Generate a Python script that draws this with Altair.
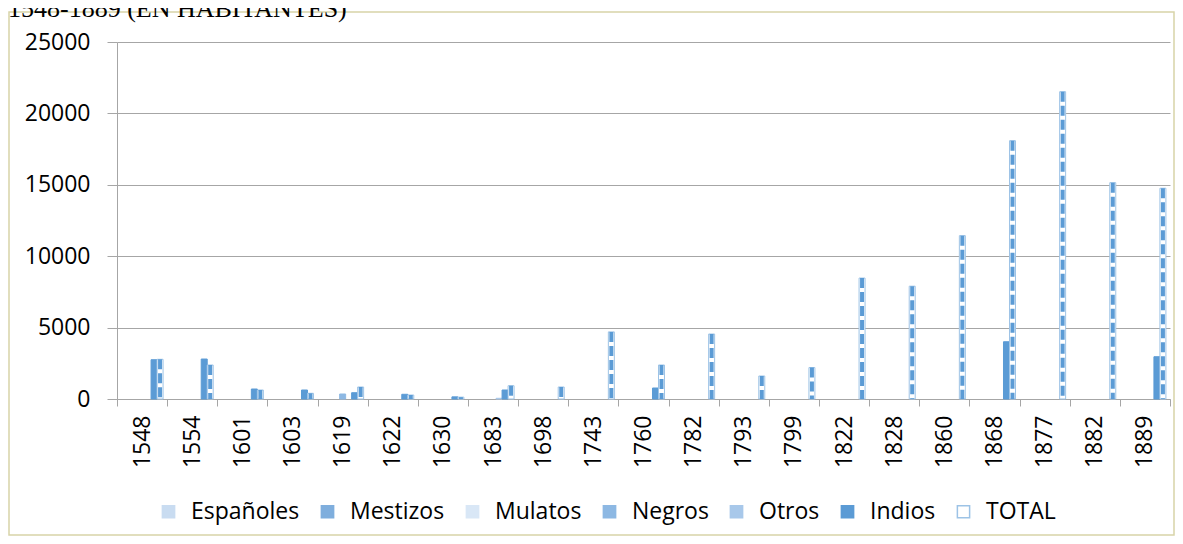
import altair as alt
import pandas as pd

title_text = "1548-1889 (EN HABITANTES)"

years = ["1548", "1554", "1601", "1603", "1619", "1622", "1630", "1683", "1698", "1743",
         "1760", "1782", "1793", "1799", "1822", "1828", "1860", "1868", "1877", "1882", "1889"]

series = ["Españoles", "Mestizos", "Mulatos", "Negros", "Otros", "Indios", "TOTAL"]

espanoles = [0, 0, 0, 0, 0, 0, 0, 0, 0, 0, 0, 0, 0, 0, 0, 0, 0, 0, 0, 0, 0]
mestizos = [0, 0, 0, 0, 0, 0, 0, 0, 0, 0, 0, 0, 0, 0, 0, 0, 0, 0, 0, 0, 0]
mulatos = [0, 0, 0, 0, 0, 0, 0, 0, 0, 0, 0, 0, 0, 0, 0, 0, 0, 0, 0, 0, 0]
negros = [0, 0, 0, 0, 350, 0, 0, 0, 0, 0, 0, 0, 0, 0, 0, 0, 0, 0, 0, 0, 0]
otros = [0, 0, 0, 0, 0, 0, 0, 50, 0, 0, 0, 0, 0, 0, 0, 0, 0, 0, 0, 0, 0]
indios = [2750, 2800, 700, 630, 440, 330, 150, 630, 0, 0, 770, 0, 0, 0, 0, 0, 0, 4010, 0, 0, 2960]
total = [2780, 2380, 630, 400, 840, 280, 130, 930, 840, 4700, 2380, 4550, 1610, 2200,
         8470, 7900, 11440, 18090, 21520, 15150, 14760]

y_ticks = [0, 5000, 10000, 15000, 20000, 25000]

fill_colors = ["#C9DCF1", "#7FAEDD", "#D9E7F6", "#8DB8E3", "#A8C8EA", "#5B9BD5", "#FFFFFF"]
stroke_colors = ["#C9DCF1", "#7FAEDD", "#D9E7F6", "#8DB8E3", "#A8C8EA", "#5B9BD5", "#9DC3E6"]

rows = []
for name, vals in zip(series, [espanoles, mestizos, mulatos, negros, otros, indios, total]):
    for yr, v in zip(years, vals):
        rows.append({"Año": yr, "Serie": name, "Valor": v})
df = pd.DataFrame(rows)

W = 1053
H = 357
FONT = "Open Sans"
GRID = "#A6A6A6"

x_enc = alt.X("Año:N", sort=years,
              scale=alt.Scale(paddingInner=0, paddingOuter=0),
              axis=alt.Axis(title=None, labelAngle=270, tickBand="extent", tickSize=7,
                            labelPadding=9, labelFont=FONT, labelFontSize=23,
                            labelColor="#000000", domainColor=GRID, tickColor=GRID,
                            grid=False, labelOverlap=False))
xoff_enc = alt.XOffset("Serie:N", sort=series,
                       scale=alt.Scale(domain=series, paddingInner=0, paddingOuter=0.68))
y_enc = alt.Y("Valor:Q", scale=alt.Scale(domain=[0, 25000], nice=False),
              axis=alt.Axis(title=None, values=y_ticks, format="d", tickSize=10,
                            labelPadding=17, labelFont=FONT, labelFontSize=23,
                            labelColor="#000000", domainColor=GRID, tickColor=GRID,
                            gridColor=GRID, gridWidth=1))

frame = alt.Chart(pd.DataFrame({"k": [1]})).mark_rect(
    fill="transparent", stroke="#D8D4A8", strokeWidth=1.5
).encode(x=alt.value(-108), x2=alt.value(W + 4), y=alt.value(-30), y2=alt.value(H + 136))

title = alt.Chart(pd.DataFrame({"t": [title_text]})).mark_text(
    font="Liberation Serif", fontSize=26, align="left", baseline="alphabetic", color="#000000"
).encode(text="t:N", x=alt.value(-109), y=alt.value(-25))

bars = alt.Chart(df).transform_filter("datum.Valor > 0").mark_bar(strokeWidth=1).encode(
    x=x_enc,
    xOffset=xoff_enc,
    y=y_enc,
    color=alt.Color("Serie:N", sort=series,
                    scale=alt.Scale(domain=series, range=fill_colors),
                    legend=alt.Legend(title=None, orient="none", legendX=40, legendY=458,
                                      direction="horizontal", symbolType="square",
                                      symbolSize=150, symbolStrokeColor="#5B9BD5",
                                      symbolStrokeWidth=1.5, labelFont=FONT,
                                      labelFontSize=23, labelColor="#000000",
                                      labelOffset=11, columnPadding=16)),
    stroke=alt.Stroke("Serie:N", sort=series,
                      scale=alt.Scale(domain=series, range=stroke_colors), legend=None),
)

dashes = alt.Chart(df).transform_filter("datum.Serie == 'TOTAL' && datum.Valor > 0").mark_rule(
    strokeWidth=4, strokeDash=[10, 4], color="#5B9BD5"
).encode(
    x=x_enc,
    xOffset=xoff_enc,
    y=y_enc,
    y2=alt.datum(0),
)

chart = alt.layer(frame, title, bars, dashes).properties(
    width=W, height=H,
    padding={"left": 109, "top": 34, "right": 5, "bottom": 137},
    autosize=alt.AutoSizeParams(type="none"),
    background="#FFFFFF",
).configure_view(stroke=None)

chart.save("out.html", embed_options={"renderer": "svg", "actions": False})
